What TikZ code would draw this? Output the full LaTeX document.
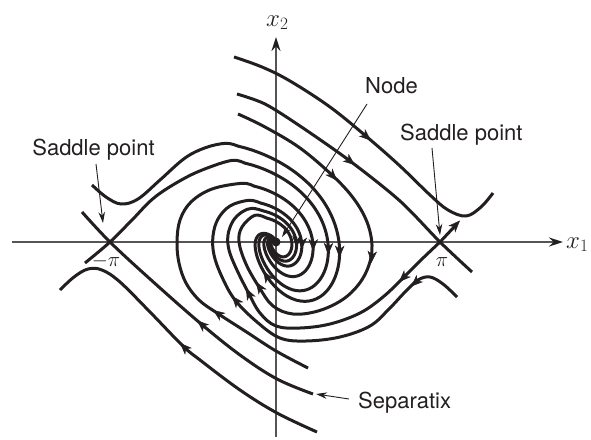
\documentclass[tikz,border=0pt]{standalone}
\usepackage{fontspec}
\setmainfont{TeX Gyre Heros}
\usetikzlibrary{arrows.meta,decorations.markings}
\definecolor{ink}{RGB}{35,31,32}
\definecolor{axisgray}{RGB}{85,85,85}
\newcommand\flowarrow[2]{\path[flowtip] #1 -- #2;}
\begin{document}
\begin{tikzpicture}[x=1pt,y=-1pt,
  declare function={
    spr(\ta,\sa,\qa)=\sa*exp(-0.25*rad(\ta-\qa))*(1-((\ta-\qa)/370)^4);
    spx(\ta,\sa,\qa)=276+spr(\ta,\sa,\qa)*(0.78*cos(\ta)+0.32*sin(\ta));
    spy(\ta,\sa,\qa)=242+spr(\ta,\sa,\qa)*(0.95*sin(\ta)+0.15*sin(\ta)*sin(\ta));
  },
  traj/.style={line width=3pt, draw=ink},
  axisline/.style={line width=1.3pt, draw=axisgray},
  pointer/.style={line width=0.9pt, draw=ink, -{Stealth[length=11pt,width=6.5pt]}},
  flowtip/.style={decoration={markings, mark=at position 1 with {\arrow[ink,line width=0.5pt]{Stealth[length=12pt,width=9.5pt,inset=3.5pt]}}}, postaction={decorate}},
  lbl/.style={font=\fontsize{22}{26}\selectfont, text=ink, inner sep=0pt},
  mlbl/.style={font=\fontsize{23}{27}\selectfont, text=ink, inner sep=0pt},
]
\useasboundingbox (0,0) rectangle (591,439);

% axes
\draw[axisline, -{Stealth[length=14pt,width=9pt,color=ink]}] (12,242) -- (563,242);
\draw[axisline, -{Stealth[length=14pt,width=9pt,color=ink]}] (276,437) -- (276,37);

% top curve passing over the right saddle
\draw[traj] plot[smooth,tension=0.6] coordinates {(234,57) (262,67) (290,81) (330,107) (367,137) (400,166) (430,195) (448,210) (466,216) (481,207) (493,193)};
% separatrix into right saddle
\draw[traj] plot[smooth,tension=0.5] coordinates {(237,94) (265,104) (300,126) (350,161) (400,201) (440,242) (472,272)};
% separatrix into left saddle
\draw[traj] plot[smooth,tension=0.6] coordinates {(82,212) (110,242) (150,279) (200,323) (240,355) (277,379) (313,394)};
% lowest curve
\draw[traj] plot[smooth,tension=0.6] coordinates {(60,290) (74,277) (88,269) (102,270) (120,282) (150,312) (183,346) (200,360) (240,390) (277,413) (317,432)};

% arm c
\draw[traj] plot[smooth,tension=0.6] coordinates {(92,185) (106,197) (121,204) (138,199) (160,180) (185,158) (206,147.5) (225.9,143.3) (237.6,146)}
  -- plot[domain=-90:280,samples=75,smooth,variable=\t] ({spx(\t,120,-90)},{spy(\t,120,-90)});
% arm b (from left saddle)
\draw[traj] plot[smooth,tension=0.6] coordinates {(85,263) (110,242) (132,220) (155,197) (185,178) (210,167) (232.7,160.3) (244.4,163)}
  -- plot[domain=-90:280,samples=75,smooth,variable=\t] ({spx(\t,98.75,-90)},{spy(\t,98.75,-90)});
% arm f
\draw[traj] plot[smooth,tension=0.6] coordinates {(308,368) (276,351) (245,331) (217,313) (199,300) (186,283) (179,263) (177,242) (180,220) (191,202) (212,189) (241.9,183.3) (253.6,186)}
  -- plot[domain=-90:280,samples=75,smooth,variable=\t] ({spx(\t,70,-90)},{spy(\t,70,-90)});
% arm e
\draw[traj] plot[smooth,tension=0.6] coordinates {(457,297) (443,284) (430,277) (418,280) (405,292) (389,309) (370,326) (340,337) (306,341) (280,338) (257,322) (235,300) (222,277) (214,255) (213,236) (218,219) (230,206) (248.7,200.3) (260.4,203)}
  -- plot[domain=270:640,samples=75,smooth,variable=\t] ({spx(\t,48.75,270)},{spy(\t,48.75,270)});
% arm d (from right saddle)
\draw[traj] plot[smooth,tension=0.6] coordinates {(440,242) (421,260) (403,278) (383,297) (360,313) (330,324) (300,328) (276,326) (260,313) (248,292) (236,268) (229,250) (228,235) (233,221) (242,212) (251.9,208.3) (263.6,211)}
  -- plot[domain=270:640,samples=75,smooth,variable=\t] ({spx(\t,38.75,270)},{spy(\t,38.75,270)});
\draw[traj] (440,242) -- (455,226);
% arm a
\draw[traj] plot[smooth,tension=0.6] coordinates {(238,114) (265,127) (300,148) (333,176) (354,199) (367,222) (372,245) (369,265) (359,284) (342,300) (318,311) (293,314) (273,306) (259,287) (246,264) (239,242) (242,227) (254.7,215.3) (266.4,218)}
  -- plot[domain=270:640,samples=75,smooth,variable=\t] ({spx(\t,30,270)},{spy(\t,30,270)});

% flow arrows
\flowarrow{(364,134.5)}{(371,140.5)}
\flowarrow{(348,159.5)}{(355,165)}
\flowarrow{(331,174)}{(337,180.5)}
\flowarrow{(372,255)}{(371.3,263)}
\flowarrow{(405,276)}{(399,282)}
\flowarrow{(417,281)}{(411,286.5)}
\flowarrow{(450,231)}{(460,220.5)}
\flowarrow{(219,314.3)}{(213,310)}
\flowarrow{(204,326.5)}{(197,320.5)}
\flowarrow{(187,350)}{(180,343)}
\flowarrow{(237,302)}{(232,296)}
\flowarrow{(249,294)}{(246,288)}
\flowarrow{(260,288)}{(256,282)}
\flowarrow{({spx(129,120,-90)},{spy(129,120,-90)})}{({spx(135,120,-90)},{spy(135,120,-90)})}
\flowarrow{({spx(6,120,-90)},{spy(6,120,-90)})}{({spx(12,120,-90)},{spy(12,120,-90)})}
\flowarrow{({spx(6,98.75,-90)},{spy(6,98.75,-90)})}{({spx(12,98.75,-90)},{spy(12,98.75,-90)})}
\flowarrow{({spx(6,70,-90)},{spy(6,70,-90)})}{({spx(12,70,-90)},{spy(12,70,-90)})}
\flowarrow{({spx(368,48.75,270)},{spy(368,48.75,270)})}{({spx(374,48.75,270)},{spy(374,48.75,270)})}
\flowarrow{({spx(368,38.75,270)},{spy(368,38.75,270)})}{({spx(374,38.75,270)},{spy(374,38.75,270)})}

% node (equilibrium)
\node[circle, fill=ink, inner sep=0pt, minimum size=9pt] (O) at (276,242) {};

% labels
\node[lbl, anchor=base] (slab) at (93.5,155.5) {Saddle point};
\node[lbl, anchor=base west] (srlab) at (400,140) {Saddle point};
\node[lbl, anchor=base west] (nlab) at (365,93) {Node};
\node[lbl, anchor=base west] (seplab) at (358,408) {Separatix};
\node[mlbl, anchor=base west] (x2lab) at (266,26) {$x_2$};
\node[mlbl, anchor=base west] (x1lab) at (566,248) {$x_1$};
\node[lbl, anchor=base] (mpi) at (106,266) {$-\pi$};
\node[lbl, anchor=base] (ppi) at (442,266) {$\pi$};

% pointers
\coordinate (pl0) at (96,164); \coordinate (pl1) at (103,223);
\coordinate (pr0) at (432,148); \coordinate (pr1) at (440,235);
\coordinate (pn0) at (367,104); \coordinate (pn1) at (282,237);
\coordinate (ps0) at (349,399); \coordinate (ps1) at (316,394);
\draw[pointer] (pl0) -- (pl1);
\draw[pointer] (pr0) -- (pr1);
\draw[pointer] (pn0) -- (pn1);
\draw[pointer] (ps0) -- (ps1);
\end{tikzpicture}
\end{document}
